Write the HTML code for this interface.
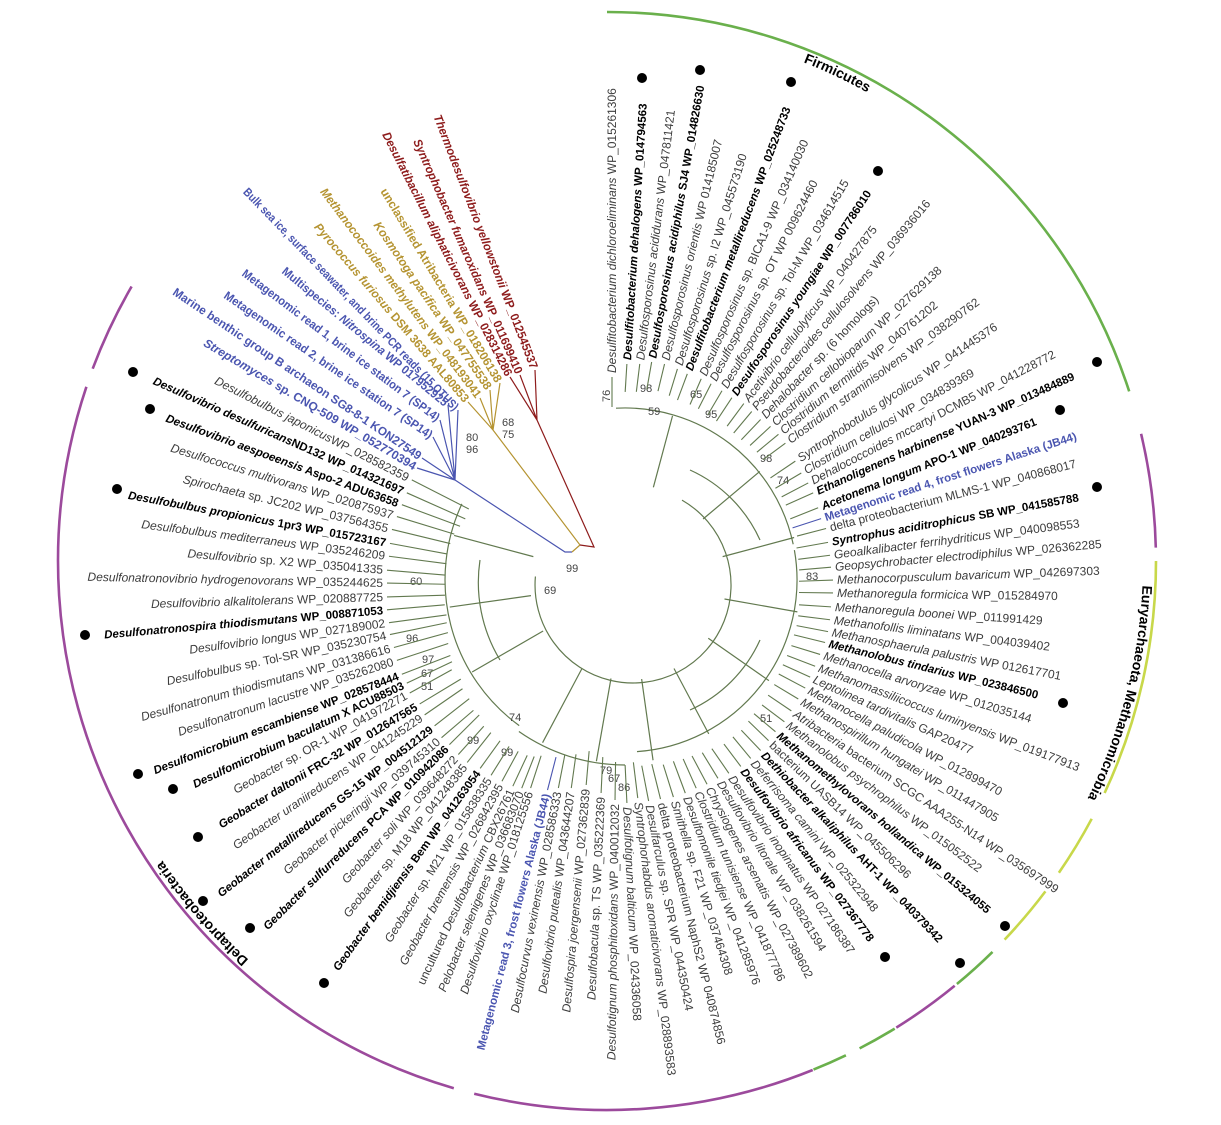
<!DOCTYPE html>
<html><head><meta charset="utf-8">
<style>
html,body{margin:0;padding:0;background:#fff;}
svg{display:block;}
text{font-family:"Liberation Sans",sans-serif;font-size:12px;fill:#3c3c3c;}
.b text,text.b{font-weight:bold;fill:#000;font-size:11.5px;}
.i{font-style:italic;}
.tr line{stroke:#62794f;stroke-width:1.1;}
.tree{fill:none;stroke:#62794f;stroke-width:1.2;}
.bl text{fill:#4a55b0;font-weight:bold;}
.go text{fill:#b59432;font-weight:bold;}
.rd text{fill:#8e1c1c;font-weight:bold;}
.bs{font-size:11px;fill:#444;}
.ring{fill:none;stroke-width:2.6;}
.sec{font-size:14px;font-weight:bold;fill:#000;}
</style></head>
<body>
<svg width="1221" height="1125" viewBox="0 0 1221 1125" xmlns="http://www.w3.org/2000/svg">
<rect width="1221" height="1125" fill="#fff"/>

<path class="ring" stroke="#6ab04c" d="M607 12 A549 549 0 0 1 1129.2 391.4"/>
<path class="ring" stroke="#9c4a9c" d="M1141.1 433.8 A549 549 0 0 1 1155.8 547.6"/>
<path class="ring" stroke="#c8d84a" d="M1156 561 A549 549 0 0 1 1104.6 793"/>
<path class="ring" stroke="#c8d84a" d="M1091.7 818.8 A549 549 0 0 1 1058.9 872.7"/>
<path class="ring" stroke="#c8d84a" d="M1045.4 891.4 A549 549 0 0 1 1004.6 939.6"/>
<path class="ring" stroke="#6ab04c" d="M992.5 951.9 A549 549 0 0 1 956.9 984"/>
<path class="ring" stroke="#9c4a9c" d="M954.7 985.8 A549 549 0 0 1 896.3 1027.6"/>
<path class="ring" stroke="#6ab04c" d="M894.7 1028.6 A549 549 0 0 1 859.6 1048.4"/>
<path class="ring" stroke="#6ab04c" d="M845.9 1055.3 A549 549 0 0 1 813.5 1069.6"/>
<path class="ring" stroke="#9c4a9c" d="M812.7 1070 A549 549 0 0 1 474.2 1093.7"/>
<path class="ring" stroke="#9c4a9c" d="M453.8 1088.2 A549 549 0 0 1 86.4 386.8"/>
<path class="ring" stroke="#9c4a9c" d="M92.7 368.7 A549 549 0 0 1 131.6 286.5"/>

<defs><path id="sp" d="M1143 561 A536 536 0 1 1 71 561 A536 536 0 1 1 1143 561"/></defs>
<text class="sec"><textPath href="#sp" startOffset="2762" text-anchor="middle">Firmicutes</textPath></text>
<text class="sec"><textPath href="#sp" startOffset="135" text-anchor="middle">Euryarchaeota,  Methanomicrobia</textPath></text>
<text class="sec"><textPath href="#sp" startOffset="1300" text-anchor="middle">Deltaproteobacteria</textPath></text>

<path class="tree" d="M682 500.1 A98 98 0 1 1 535.4 576.5"/>
<path class="tree" d="M616 408.2 A172 172 0 0 1 793.2 544.2"/>
<path class="tree" d="M794.4 550.1 A172 172 0 0 1 637 751.6"/>
<path class="tree" d="M625 765 A185 185 0 0 1 518.9 731.5"/>
<path class="tree" d="M519.2 725.6 A180 180 0 0 1 461.9 503.9"/>
<path class="tree" d="M690 470 A140 140 0 0 1 760 540"/>
<path class="tree" d="M760 640 A140 140 0 0 1 690 710"/>
<path class="tree" d="M500 660 A150 150 0 0 1 480 560"/>
<g class="tree">
<line x1="98" x2="172" transform="translate(628,582) rotate(-75)"/>
<line x1="98" x2="172" transform="translate(628,582) rotate(-40)"/>
<line x1="98" x2="172" transform="translate(628,582) rotate(-15)"/>
<line x1="98" x2="172" transform="translate(628,582) rotate(10)"/>
<line x1="98" x2="172" transform="translate(628,582) rotate(35)"/>
<line x1="98" x2="172" transform="translate(628,582) rotate(62)"/>
<line x1="98" x2="180" transform="translate(628,582) rotate(82)"/>
<line x1="98" x2="182" transform="translate(628,582) rotate(100)"/>
<line x1="98" x2="182" transform="translate(628,582) rotate(118)"/>
<line x1="98" x2="180" transform="translate(628,582) rotate(150)"/>
<line x1="98" x2="180" transform="translate(628,582) rotate(172)"/>
<line x1="98" x2="180" transform="translate(628,582) rotate(195)"/>
</g>
<path d="M572 552 L565 552 L455 480 M455 480 L417 468 M455 480 L422 458 M455 480 L433 437 M455 480 L440 420 M455 480 L448 405 M455 480 L458 410" fill="none" stroke="#4a55b0" stroke-width="1.2"/>
<path d="M572 552 L580 545 L493 430 M493 430 L468 402 M493 430 L480 398 M493 430 L490 390 M493 430 L500 383" fill="none" stroke="#b59432" stroke-width="1.2"/>
<path d="M580 545 L594 547 L537 420 M537 420 L510 377 M537 420 L520 375 M537 420 L535 370" fill="none" stroke="#8e1c1c" stroke-width="1.2"/>

<g class="bs">
<text x="600" y="400" class="bs" transform="rotate(-90 606 396)">76</text>
<text x="640" y="392" class="bs">98</text>
<text x="648" y="415" class="bs">59</text>
<text x="690" y="398" class="bs">65</text>
<text x="705" y="418" class="bs">95</text>
<text x="760" y="462" class="bs">98</text>
<text x="777" y="484" class="bs">74</text>
<text x="806" y="580" class="bs">83</text>
<text x="760" y="722" class="bs">51</text>
<text x="566" y="572" class="bs">99</text>
<text x="544" y="594" class="bs">69</text>
<text x="466" y="441" class="bs">80</text>
<text x="466" y="453" class="bs">96</text>
<text x="502" y="426" class="bs">68</text>
<text x="502" y="438" class="bs">75</text>
<text x="410" y="585" class="bs">60</text>
<text x="406" y="642" class="bs">96</text>
<text x="422" y="663" class="bs">97</text>
<text x="421" y="677" class="bs">67</text>
<text x="421" y="690" class="bs">51</text>
<text x="509" y="721" class="bs">74</text>
<text x="467" y="744" class="bs">99</text>
<text x="501" y="756" class="bs">99</text>
<text x="600" y="774" class="bs">79</text>
<text x="608" y="782" class="bs">67</text>
<text x="618" y="791" class="bs">86</text>
</g>

<g fill="#000">
<circle cx="642" cy="78" r="5"/><circle cx="700" cy="70" r="5"/><circle cx="791" cy="82" r="5"/><circle cx="878" cy="171" r="5"/>
<circle cx="1097" cy="362" r="5"/><circle cx="1060" cy="410" r="5"/><circle cx="1097" cy="487" r="5"/><circle cx="1063" cy="703" r="5"/>
<circle cx="1005" cy="926" r="5"/><circle cx="960" cy="963" r="5"/><circle cx="885" cy="957" r="5"/>
<circle cx="133" cy="372" r="5"/><circle cx="150" cy="409" r="5"/><circle cx="117" cy="489" r="5"/><circle cx="85" cy="635" r="5"/>
<circle cx="138" cy="774" r="5"/><circle cx="173" cy="789" r="5"/><circle cx="198" cy="837" r="5"/><circle cx="203" cy="901" r="5"/>
<circle cx="250" cy="928" r="5"/><circle cx="324" cy="983" r="5"/>
</g>

<g class="tr">
<g transform="translate(612,375) rotate(-90)"><line x1="-32" x2="-2"/><text x="2" dy="4"><tspan class="i">Desulfitobacterium dichloroeliminans</tspan>  WP_015261306</text></g>
<g class="b" transform="translate(627,362) rotate(-86.5)"><line x1="-30" x2="-2"/><text x="2" dy="4"><tspan class="i">Desulfitobacterium dehalogens</tspan>  WP_014794563</text></g>
<g transform="translate(640,362) rotate(-83)"><line x1="-30" x2="-2"/><text x="2" dy="4"><tspan class="i">Desulfosporosinus acididurans</tspan> WP_047811421</text></g>
<g class="b" transform="translate(652,360) rotate(-80)"><line x1="-30" x2="-2"/><text x="2" dy="4"><tspan class="i">Desulfosporosinus acidiphilus</tspan> SJ4  WP_014826630</text></g>
<g transform="translate(665,362) rotate(-76.5)"><line x1="-30" x2="-2"/><text x="2" dy="4"><tspan class="i">Desulfosporosinus orientis</tspan> WP 014185007</text></g>
<g transform="translate(678,367) rotate(-73)"><line x1="-30" x2="-2"/><text x="2" dy="4"><tspan class="i">Desulfosporosinus</tspan> sp. I2   WP_045573190</text></g>
<g class="b" transform="translate(688,372) rotate(-69.5)"><line x1="-30" x2="-2"/><text x="2" dy="4"><tspan class="i">Desulfitobacterium metallireducens</tspan>  WP_025248733</text></g>
<g transform="translate(702,377) rotate(-66.5)"><line x1="-30" x2="-2"/><text x="2" dy="4"><tspan class="i">Desulfosporosinus</tspan> sp. BICA1-9  WP_034140030</text></g>
<g transform="translate(712,382) rotate(-63)"><line x1="-30" x2="-2"/><text x="2" dy="4"><tspan class="i">Desulfosporosinus</tspan> sp. OT WP 009624460</text></g>
<g transform="translate(723,389) rotate(-59.5)"><line x1="-30" x2="-2"/><text x="2" dy="4"><tspan class="i">Desulfosporosinus</tspan> sp. Tol-M   WP_034614515</text></g>
<g class="b" transform="translate(733,396) rotate(-56.5)"><line x1="-30" x2="-2"/><text x="2" dy="4"><tspan class="i">Desulfosporosinus youngiae</tspan>  WP_007786010</text></g>
<g transform="translate(745,402) rotate(-53.5)"><line x1="-30" x2="-2"/><text x="2" dy="4"><tspan class="i">Acetivibrio cellulolyticus</tspan> WP_040427875</text></g>
<g transform="translate(753,410) rotate(-50)"><line x1="-30" x2="-2"/><text x="2" dy="4"><tspan class="i">Pseudobacteroides cellulosolvens</tspan> WP_036936016</text></g>
<g transform="translate(762,418) rotate(-46.5)"><line x1="-30" x2="-2"/><text x="2" dy="4"><tspan class="i">Dehalobacter</tspan> sp. (6 homologs)</text></g>
<g transform="translate(772,425) rotate(-43)"><line x1="-30" x2="-2"/><text x="2" dy="4"><tspan class="i">Clostridium cellobioparum</tspan> WP_027629138</text></g>
<g transform="translate(780,433) rotate(-39.7)"><line x1="-30" x2="-2"/><text x="2" dy="4"><tspan class="i">Clostridium termitidis</tspan> WP_040761202</text></g>
<g transform="translate(787,442) rotate(-36.5)"><line x1="-30" x2="-2"/><text x="2" dy="4"><tspan class="i">Clostridium straminisolvens</tspan> WP_038290762</text></g>
<g transform="translate(797,460) rotate(-34)"><line x1="-32" x2="-2"/><text x="2" dy="4"><tspan class="i">Syntrophobotulus glycolicus</tspan> WP_041445376</text></g>
<g transform="translate(803,472) rotate(-30.5)"><line x1="-32" x2="-2"/><text x="2" dy="4"><tspan class="i">Clostridium cellulosi</tspan> WP_034839369</text></g>
<g transform="translate(810,482) rotate(-27.7)"><line x1="-32" x2="-2"/><text x="2" dy="4"><tspan class="i">Dehalococcoides mccartyi</tspan> DCMB5 WP_041228772</text></g>
<g class="b" transform="translate(815,492) rotate(-24.2)"><line x1="-32" x2="-2"/><text x="2" dy="4"><tspan class="i">Ethanoligenens harbinense</tspan> YUAN-3  WP_013484889</text></g>
<g class="b" transform="translate(820,507) rotate(-21.7)"><line x1="-32" x2="-2"/><text x="2" dy="4"><tspan class="i">Acetonema longum</tspan> APO-1 WP_040293761</text></g>
<g class="b" transform="translate(823,518) rotate(-18)"><line x1="-32" x2="-2" style="stroke:#4a55b0"/><text x="2" dy="4" style="fill:#4a55b0">Metagenomic read 4, frost flowers Alaska (JB44)</text></g>
<g transform="translate(828,528) rotate(-14.6)"><line x1="-32" x2="-2"/><text x="2" dy="4">delta proteobacterium MLMS-1 WP_040868017</text></g>
<g class="b" transform="translate(830,542) rotate(-10.2)"><line x1="-34" x2="-2"/><text x="2" dy="4"><tspan class="i">Syntrophus aciditrophicus</tspan> SB  WP_041585788</text></g>
<g transform="translate(832,555) rotate(-7.3)"><line x1="-34" x2="-2"/><text x="2" dy="4"><tspan class="i">Geoalkalibacter ferrihydriticus</tspan> WP_040098553</text></g>
<g transform="translate(833,567) rotate(-4.9)"><line x1="-34" x2="-2"/><text x="2" dy="4"><tspan class="i">Geopsychrobacter electrodiphilus</tspan> WP_026362285</text></g>
<g transform="translate(835,580) rotate(-2)"><line x1="-36" x2="-2"/><text x="2" dy="4"><tspan class="i">Methanocorpusculum bavaricum</tspan> WP_042697303</text></g>
<g transform="translate(835,593) rotate(0.8)"><line x1="-36" x2="-2"/><text x="2" dy="4"><tspan class="i">Methanoregula formicica</tspan> WP_015284970</text></g>
<g transform="translate(833,607) rotate(3.7)"><line x1="-34" x2="-2"/><text x="2" dy="4"><tspan class="i">Methanoregula boonei</tspan> WP_011991429</text></g>
<g transform="translate(832,620) rotate(7)"><line x1="-34" x2="-2"/><text x="2" dy="4"><tspan class="i">Methanofollis liminatans</tspan> WP_004039402</text></g>
<g transform="translate(830,632) rotate(10.8)"><line x1="-34" x2="-2"/><text x="2" dy="4"><tspan class="i">Methanosphaerula palustris</tspan> WP 012617701</text></g>
<g class="b" transform="translate(827,643) rotate(13.8)"><line x1="-34" x2="-2"/><text x="2" dy="4"><tspan class="i">Methanolobus tindarius</tspan> WP_023846500</text></g>
<g transform="translate(822,655) rotate(17)"><line x1="-32" x2="-2"/><text x="2" dy="4"><tspan class="i">Methanocella arvoryzae</tspan> WP_012035144</text></g>
<g transform="translate(817,667) rotate(21)"><line x1="-32" x2="-2"/><text x="2" dy="4"><tspan class="i">Methanomassiliicoccus luminyensis</tspan> WP_019177913</text></g>
<g transform="translate(812,678) rotate(24.4)"><line x1="-32" x2="-2"/><text x="2" dy="4"><tspan class="i">Leptolinea tardivitalis</tspan>  GAP20477</text></g>
<g transform="translate(807,689) rotate(28)"><line x1="-32" x2="-2"/><text x="2" dy="4"><tspan class="i">Methanocella paludicola</tspan> WP_012899470</text></g>
<g transform="translate(800,700) rotate(31)"><line x1="-30" x2="-2"/><text x="2" dy="4"><tspan class="i">Methanospirillum hungatei</tspan> WP_011447905</text></g>
<g transform="translate(793,712) rotate(34)"><line x1="-30" x2="-2"/><text x="2" dy="4"><tspan class="i">Atribacteria</tspan> bacterium SCGC AAA255-N14 WP_035697999</text></g>
<g transform="translate(786,723) rotate(37)"><line x1="-30" x2="-2"/><text x="2" dy="4"><tspan class="i">Methanolobus psychrophilus</tspan> WP_015052522</text></g>
<g class="b" transform="translate(777,733) rotate(40)"><line x1="-30" x2="-2"/><text x="2" dy="4"><tspan class="i">Methanomethylovorans hollandica</tspan> WP_015324055</text></g>
<g transform="translate(770,742) rotate(44)"><line x1="-30" x2="-2"/><text x="2" dy="4">bacterium UASB14 WP_045506296</text></g>
<g class="b" transform="translate(762,752) rotate(46.5)"><line x1="-30" x2="-2"/><text x="2" dy="4"><tspan class="i">Dethiobacter alkaliphilus</tspan> AHT-1 WP_040379342</text></g>
<g transform="translate(752,760) rotate(50.5)"><line x1="-30" x2="-2"/><text x="2" dy="4"><tspan class="i">Deferrisoma camini</tspan>  WP_025322948</text></g>
<g class="b" transform="translate(742,768) rotate(53)"><line x1="-30" x2="-2"/><text x="2" dy="4"><tspan class="i">Desulfovibrio africanus</tspan>  WP_027367778</text></g>
<g transform="translate(730,775) rotate(55.5)"><line x1="-32" x2="-2"/><text x="2" dy="4"><tspan class="i">Desulfovibrio inopinatus</tspan> WP 027186387</text></g>
<g transform="translate(719,780) rotate(58.5)"><line x1="-32" x2="-2"/><text x="2" dy="4"><tspan class="i">Desulfovibrio litorale</tspan> WP_038261594</text></g>
<g transform="translate(708,786) rotate(62)"><line x1="-34" x2="-2"/><text x="2" dy="4"><tspan class="i">Chrysiogenes arsenatis</tspan> WP_027389602</text></g>
<g transform="translate(697,790) rotate(66)"><line x1="-34" x2="-2"/><text x="2" dy="4"><tspan class="i">Clostridium tunisiense</tspan> WP_041877786</text></g>
<g transform="translate(686,795) rotate(69.5)"><line x1="-36" x2="-2"/><text x="2" dy="4"><tspan class="i">Desulfomonile tiedjei</tspan> WP_041285976</text></g>
<g transform="translate(674,799) rotate(72.6)"><line x1="-36" x2="-2"/><text x="2" dy="4"><tspan class="i">Smithella</tspan> sp. F21 WP_037464308</text></g>
<g transform="translate(661,801) rotate(76)"><line x1="-38" x2="-2"/><text x="2" dy="4">delta proteobacterium NaphS2 WP 040874856</text></g>
<g transform="translate(649,803) rotate(79)"><line x1="-38" x2="-2"/><text x="2" dy="4"><tspan class="i">Desulfarculus</tspan> sp. SPR WP_044350424</text></g>
<g transform="translate(638,800) rotate(83)"><line x1="-38" x2="-2"/><text x="2" dy="4"><tspan class="i">Syntrophorhabdus aromaticivorans</tspan> WP_028893583</text></g>
<g transform="translate(627,805) rotate(87.3)"><line x1="-40" x2="-2"/><text x="2" dy="4"><tspan class="i">Desulfotignum balticum</tspan> WP_024336058</text></g>
</g>

<g class="tr">
<g transform="translate(615,802) rotate(90.8)"><line x1="-40" x2="-2"/><text transform="rotate(180)" x="-2" dy="4" text-anchor="end"><tspan class="i">Desulfotignum phosphitoxidans</tspan> WP_040012032</text></g>
<g transform="translate(601,795) rotate(92.7)"><line x1="-38" x2="-2"/><text transform="rotate(180)" x="-2" dy="4" text-anchor="end"><tspan class="i">Desulfobacula</tspan> sp. TS WP_035222369</text></g>
<g transform="translate(586,787) rotate(95)"><line x1="-36" x2="-2"/><text transform="rotate(180)" x="-2" dy="4" text-anchor="end"><tspan class="i">Desulfospira joergensenii</tspan> WP_027362839</text></g>
<g transform="translate(571,790) rotate(98)"><line x1="-36" x2="-2"/><text transform="rotate(180)" x="-2" dy="4" text-anchor="end"><tspan class="i">Desulfovibrio putealis</tspan> WP_043644207</text></g>
<g transform="translate(558,790) rotate(101)"><line x1="-36" x2="-2"/><text transform="rotate(180)" x="-2" dy="4" text-anchor="end"><tspan class="i">Desulfocurvus vexinensis</tspan> WP_028586333</text></g>
<g class="b" transform="translate(547,792) rotate(104.5)"><line x1="-36" x2="-2" style="stroke:#4a55b0"/><text transform="rotate(180)" x="-2" dy="4" text-anchor="end" style="fill:#4a55b0">Metagenomic read 3, frost flowers  Alaska (JB44)</text></g>
<g transform="translate(530,790) rotate(108)"><line x1="-36" x2="-2"/><text transform="rotate(180)" x="-2" dy="4" text-anchor="end"><tspan class="i">Desulfovibrio oxyclinae</tspan>  WP_018125556</text></g>
<g transform="translate(521,790) rotate(111.5)"><line x1="-36" x2="-2"/><text transform="rotate(180)" x="-2" dy="4" text-anchor="end"><tspan class="i">Pelobacter selenigenes</tspan> WP_036683070</text></g>
<g transform="translate(512,788) rotate(115)"><line x1="-36" x2="-2"/><text transform="rotate(180)" x="-2" dy="4" text-anchor="end">uncultured <tspan class="i">Desulfobacterium</tspan> CBX26761</text></g>
<g transform="translate(501,783) rotate(118.5)"><line x1="-36" x2="-2"/><text transform="rotate(180)" x="-2" dy="4" text-anchor="end"><tspan class="i">Geobacter bremensis</tspan> WP_026842395</text></g>
<g transform="translate(490,777) rotate(122)"><line x1="-36" x2="-2"/><text transform="rotate(180)" x="-2" dy="4" text-anchor="end"><tspan class="i">Geobacter</tspan> sp. M21 WP_015838335</text></g>
<g class="b" transform="translate(479,770) rotate(125.8)"><line x1="-36" x2="-2"/><text transform="rotate(180)" x="-2" dy="4" text-anchor="end"><tspan class="i">Geobacter bemidjiensis</tspan> Bem WP_041263054</text></g>
<g transform="translate(466,764) rotate(128.4)"><line x1="-40" x2="-2"/><text transform="rotate(180)" x="-2" dy="4" text-anchor="end"><tspan class="i">Geobacter</tspan> sp. M18 WP_041248385</text></g>
<g transform="translate(457,756) rotate(132)"><line x1="-40" x2="-2"/><text transform="rotate(180)" x="-2" dy="4" text-anchor="end"><tspan class="i">Geobacter soli</tspan> WP_039648272</text></g>
<g class="b" transform="translate(448,746) rotate(135.2)"><line x1="-44" x2="-2"/><text transform="rotate(180)" x="-2" dy="4" text-anchor="end"><tspan class="i">Geobacter sulfurreducens</tspan> PCA WP_010942086</text></g>
<g transform="translate(440,739) rotate(139.4)"><line x1="-44" x2="-2"/><text transform="rotate(180)" x="-2" dy="4" text-anchor="end"><tspan class="i">Geobacter pickeringii</tspan> WP_039745310</text></g>
<g class="b" transform="translate(433,727) rotate(142)"><line x1="-46" x2="-2"/><text transform="rotate(180)" x="-2" dy="4" text-anchor="end"><tspan class="i">Geobacter metallireducens</tspan> GS-15  WP_004512129</text></g>
<g transform="translate(423,716) rotate(145.4)"><line x1="-48" x2="-2"/><text transform="rotate(180)" x="-2" dy="4" text-anchor="end"><tspan class="i">Geobacter uraniireducens</tspan> WP_041245229</text></g>
<g class="b" transform="translate(418,705) rotate(148.8)"><line x1="-50" x2="-2"/><text transform="rotate(180)" x="-2" dy="4" text-anchor="end"><tspan class="i">Geobacter daltonii</tspan> FRC-32  WP_012647565</text></g>
<g transform="translate(408,694) rotate(151)"><line x1="-50" x2="-2"/><text transform="rotate(180)" x="-2" dy="4" text-anchor="end"><tspan class="i">Geobacter</tspan> sp. OR-1 WP_041972271</text></g>
<g class="b" transform="translate(405,684) rotate(154.6)"><line x1="-52" x2="-2"/><text transform="rotate(180)" x="-2" dy="4" text-anchor="end"><tspan class="i">Desulfomicrobium baculatum</tspan> X  ACU88503</text></g>
<g class="b" transform="translate(400,675) rotate(158.8)"><line x1="-54" x2="-2"/><text transform="rotate(180)" x="-2" dy="4" text-anchor="end"><tspan class="i">Desulfomicrobium escambiense</tspan> WP_028578444</text></g>
<g transform="translate(395,661) rotate(161.8)"><line x1="-56" x2="-2"/><text transform="rotate(180)" x="-2" dy="4" text-anchor="end"><tspan class="i">Desulfonatronum lacustre</tspan> WP_035262080</text></g>
<g transform="translate(392,648) rotate(164.6)"><line x1="-58" x2="-2"/><text transform="rotate(180)" x="-2" dy="4" text-anchor="end"><tspan class="i">Desulfonatronum thiodismutans</tspan> WP_031386616</text></g>
<g transform="translate(388,635) rotate(168.2)"><line x1="-60" x2="-2"/><text transform="rotate(180)" x="-2" dy="4" text-anchor="end"><tspan class="i">Desulfobulbus</tspan> sp. Tol-SR WP_035230754</text></g>
<g transform="translate(387,623) rotate(172.3)"><line x1="-60" x2="-2"/><text transform="rotate(180)" x="-2" dy="4" text-anchor="end"><tspan class="i">Desulfovibrio longus</tspan> WP_027189002</text></g>
<g class="b" transform="translate(385,610) rotate(175)"><line x1="-60" x2="-2"/><text transform="rotate(180)" x="-2" dy="4" text-anchor="end"><tspan class="i">Desulfonatronospira thiodismutans</tspan> WP_008871053</text></g>
<g transform="translate(385,597) rotate(178.3)"><line x1="-60" x2="-2"/><text transform="rotate(180)" x="-2" dy="4" text-anchor="end"><tspan class="i">Desulfovibrio alkalitolerans</tspan> WP_020887725</text></g>
<g transform="translate(385,583) rotate(181.2)"><line x1="-60" x2="-2"/><text transform="rotate(180)" x="-2" dy="4" text-anchor="end"><tspan class="i">Desulfonatronovibrio hydrogenovorans</tspan> WP_035244625</text></g>
<g transform="translate(385,570) rotate(184.8)"><line x1="-60" x2="-2"/><text transform="rotate(180)" x="-2" dy="4" text-anchor="end"><tspan class="i">Desulfovibrio</tspan> sp. X2 WP_035041335</text></g>
<g transform="translate(387,556) rotate(187.4)"><line x1="-60" x2="-2"/><text transform="rotate(180)" x="-2" dy="4" text-anchor="end"><tspan class="i">Desulfobulbus mediterraneus</tspan> WP_035246209</text></g>
<g class="b" transform="translate(388,543) rotate(190.5)"><line x1="-60" x2="-2"/><text transform="rotate(180)" x="-2" dy="4" text-anchor="end"><tspan class="i">Desulfobulbus propionicus</tspan> 1pr3 WP_015723167</text></g>
<g transform="translate(390,529) rotate(193.6)"><line x1="-62" x2="-2"/><text transform="rotate(180)" x="-2" dy="4" text-anchor="end"><tspan class="i">Spirochaeta</tspan> sp. JC202   WP_037564355</text></g>
<g transform="translate(395,516) rotate(197)"><line x1="-62" x2="-2"/><text transform="rotate(180)" x="-2" dy="4" text-anchor="end"><tspan class="i">Desulfococcus multivorans</tspan> WP_020875937</text></g>
<g class="b" transform="translate(400,504) rotate(200.3)"><line x1="-64" x2="-2"/><text transform="rotate(180)" x="-2" dy="4" text-anchor="end"><tspan class="i">Desulfovibrio aespoeensis</tspan> Aspo-2 ADU63658</text></g>
<g class="b" transform="translate(405,492) rotate(204)"><line x1="-66" x2="-2"/><text transform="rotate(180)" x="-2" dy="4" text-anchor="end"><tspan class="i">Desulfovibrio desulfuricans</tspan>ND132  WP_014321697</text></g>
<g transform="translate(410,479) rotate(207)"><line x1="-66" x2="-2"/><text transform="rotate(180)" x="-2" dy="4" text-anchor="end"><tspan class="i">Desulfobulbus japonicus</tspan>WP_028582359</text></g>
</g>

<g class="bl">
<g transform="translate(417,468) rotate(210.7)"><text transform="rotate(180)" x="-2" dy="4" text-anchor="end" textLength="245" lengthAdjust="spacingAndGlyphs"><tspan class="i">Streptomyces</tspan> sp. CNQ-509 WP_052770394</text></g>
<g transform="translate(422,458) rotate(214)"><text transform="rotate(180)" x="-2" dy="4" text-anchor="end" textLength="297" lengthAdjust="spacingAndGlyphs">Marine benthic group B archaeon SG8-8-1 KON27549</text></g>
<g transform="translate(433,437) rotate(214.5)"><text transform="rotate(180)" x="-2" dy="4" text-anchor="end" textLength="250" lengthAdjust="spacingAndGlyphs">Metagenomic read 2, brine ice station 7 (SP14)</text></g>
<g transform="translate(440,420) rotate(217)"><text transform="rotate(180)" x="-2" dy="4" text-anchor="end" textLength="244" lengthAdjust="spacingAndGlyphs">Metagenomic read 1, brine ice station 7 (SP14)</text></g>
<g transform="translate(448,405) rotate(219.5)"><text transform="rotate(180)" x="-2" dy="4" text-anchor="end" textLength="211" lengthAdjust="spacingAndGlyphs">Multispecies: <tspan class="i">Nitrospina</tspan>  WP 017952925</text></g>
<g transform="translate(458,410) rotate(226)"><text transform="rotate(180)" x="-2" dy="4" text-anchor="end" textLength="304" lengthAdjust="spacingAndGlyphs">Bulk sea ice, surface seawater, and brine PCR reads (15 OTUS)</text></g>
</g>
<g class="go">
<g transform="translate(468,402) rotate(229.5)"><text transform="rotate(180)" x="-2" dy="4" text-anchor="end" textLength="231" lengthAdjust="spacingAndGlyphs"><tspan class="i">Pyrococcus furiosus</tspan> DSM 3638  AAL80853</text></g>
<g transform="translate(480,398) rotate(233)"><text transform="rotate(180)" x="-2" dy="4" text-anchor="end" textLength="259" lengthAdjust="spacingAndGlyphs"><tspan class="i">Methanococcoides methylutens</tspan> WP_048193041</text></g>
<g transform="translate(490,390) rotate(235.8)"><text transform="rotate(180)" x="-2" dy="4" text-anchor="end" textLength="200" lengthAdjust="spacingAndGlyphs"><tspan class="i">Kosmotoga pacifica</tspan>  WP_047755538</text></g>
<g transform="translate(500,383) rotate(239)"><text transform="rotate(180)" x="-2" dy="4" text-anchor="end" textLength="224" lengthAdjust="spacingAndGlyphs">unclassified Atribacteria  WP_018206138</text></g>
</g>
<g class="rd">
<g transform="translate(510,377) rotate(243)"><text transform="rotate(180)" x="-2" dy="4" text-anchor="end" textLength="272" lengthAdjust="spacingAndGlyphs"><tspan class="i">Desulfatibacillum aliphaticivorans</tspan> WP_028314286</text></g>
<g transform="translate(520,375) rotate(246.3)"><text transform="rotate(180)" x="-2" dy="4" text-anchor="end" textLength="255" lengthAdjust="spacingAndGlyphs"><tspan class="i">Syntrophobacter fumaroxidans</tspan> WP_011699410</text></g>
<g transform="translate(535,370) rotate(249)"><text transform="rotate(180)" x="-2" dy="4" text-anchor="end" textLength="271" lengthAdjust="spacingAndGlyphs"><tspan class="i">Thermodesulfovibrio yellowstonii</tspan>  WP_012545537</text></g>
</g>
</svg>
</body></html>
